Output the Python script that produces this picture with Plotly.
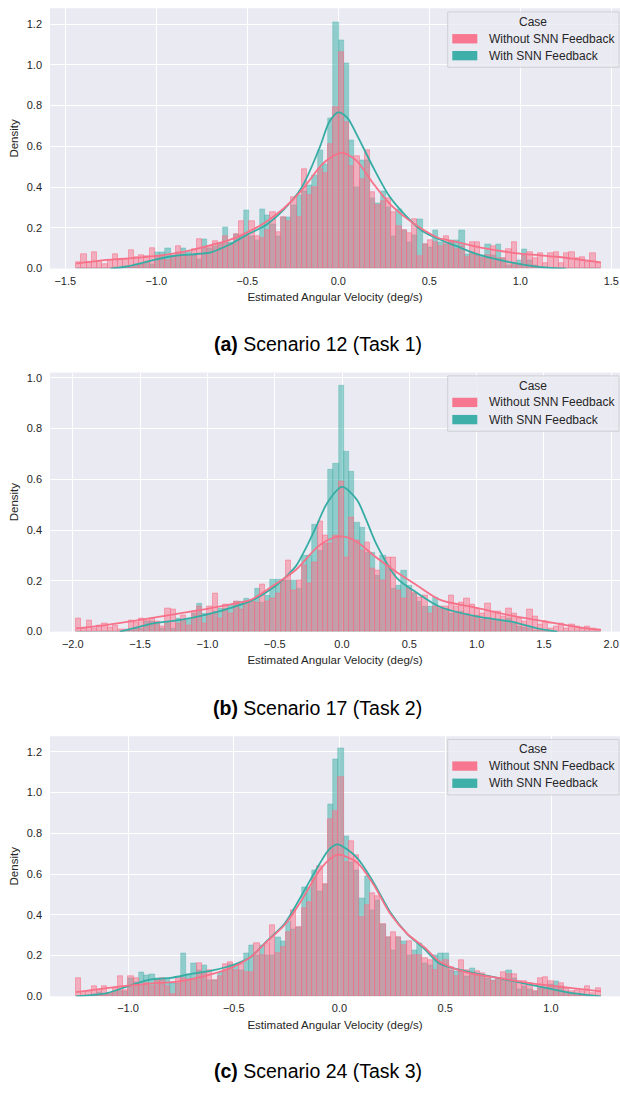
import numpy as np
import plotly.graph_objects as go

# ---------------- DATA ----------------
SERIES_NAMES = ["Without SNN Feedback", "With SNN Feedback"]
CAPTION_LETTERS = ["(a)", "(b)", "(c)"]
CAPTION_TEXTS = ["Scenario 12 (Task 1)", "Scenario 17 (Task 2)", "Scenario 24 (Task 3)"]
X_TITLE = "Estimated Angular Velocity (deg/s)"
Y_TITLE = "Density"
LEGEND_TITLE = "Case"

# histogram bin ranges (100 bins each)
BINS_A = (-1.440, 1.443, 100)
BINS_B = (-1.976, 1.924, 100)
BINS_C = (-1.246, 1.236, 100)

X_TICKS_A = [-1.5, -1.0, -0.5, 0.0, 0.5, 1.0, 1.5]
X_TICKS_B = [-2.0, -1.5, -1.0, -0.5, 0.0, 0.5, 1.0, 1.5, 2.0]
X_TICKS_C = [-1.0, -0.5, 0.0, 0.5, 1.0]
Y_TICKS_A = [0.0, 0.2, 0.4, 0.6, 0.8, 1.0, 1.2]
Y_TICKS_B = [0.0, 0.2, 0.4, 0.6, 0.8, 1.0]
Y_TICKS_C = [0.0, 0.2, 0.4, 0.6, 0.8, 1.0, 1.2]

A_WITHOUT = [0.03, 0.07, 0.03, 0.08, 0.035, 0.02, 0.04, 0.07, 0.045, 0.045,
             0.09, 0.055, 0.065, 0.06, 0.10, 0.06, 0.055, 0.04, 0.06, 0.11,
             0.07, 0.06, 0.095, 0.145, 0.10, 0.11, 0.135, 0.12, 0.16, 0.12,
             0.17, 0.23, 0.16, 0.23, 0.16, 0.15, 0.19, 0.275, 0.18, 0.25,
             0.23, 0.35, 0.25, 0.49, 0.36, 0.40, 0.49, 0.47, 0.61, 0.79,
             1.06, 0.72, 0.50, 0.55, 0.44, 0.58, 0.375, 0.31, 0.33, 0.345,
             0.275, 0.21, 0.19, 0.175, 0.24, 0.06, 0.12, 0.14, 0.13, 0.11,
             0.16, 0.13, 0.094, 0.11, 0.057, 0.127, 0.127, 0.05, 0.065, 0.11,
             0.05, 0.05, 0.093, 0.127, 0.016, 0.065, 0.08, 0.05, 0.073, 0.024,
             0.073, 0.08, 0.024, 0.073, 0.08, 0.05, 0.057, 0.033, 0.073, 0.024]
A_WITH = [0, 0, 0, 0, 0, 0, 0, 0.005, 0.0, 0.01,
          0.005, 0.015, 0.02, 0.03, 0.02, 0.08, 0.08, 0.10, 0.06, 0.08,
          0.10, 0.08, 0.065, 0.045, 0.145, 0.10, 0.11, 0.125, 0.205, 0.13,
          0.17, 0.16, 0.285, 0.16, 0.14, 0.29, 0.26, 0.22, 0.16, 0.25,
          0.25, 0.31, 0.36, 0.38, 0.41, 0.46, 0.58, 0.51, 0.74, 1.21,
          1.12, 1.01, 0.63, 0.40, 0.53, 0.53, 0.345, 0.32, 0.38, 0.30,
          0.16, 0.29, 0.19, 0.13, 0.165, 0.24, 0.12, 0.107, 0.19, 0.13,
          0.12, 0.14, 0.14, 0.19, 0.07, 0.08, 0.065, 0.065, 0.117, 0.065,
          0.117, 0.052, 0.016, 0.024, 0.04, 0.093, 0.04, 0.016, 0.008, 0.004,
          0, 0, 0, 0, 0, 0, 0, 0, 0, 0]

B_WITHOUT = [0.05, 0.01, 0.045, 0.01, 0.025, 0.03, 0.015, 0.025, 0.007, 0.007,
             0.045, 0.035, 0.05, 0.045, 0.05, 0.04, 0.02, 0.09, 0.085, 0.03,
             0.065, 0.025, 0.08, 0.10, 0.03, 0.10, 0.15, 0.05, 0.105, 0.07,
             0.117, 0.085, 0.117, 0.117, 0.115, 0.185, 0.12, 0.13, 0.15, 0.20,
             0.28, 0.16, 0.20, 0.26, 0.19, 0.27, 0.435, 0.38, 0.345, 0.38,
             0.59, 0.29, 0.45, 0.36, 0.32, 0.35, 0.25, 0.24, 0.20, 0.29,
             0.29, 0.16, 0.13, 0.17, 0.155, 0.135, 0.14, 0.07, 0.10, 0.10,
             0.10, 0.14, 0.10, 0.115, 0.13, 0.107, 0.09, 0.072, 0.11, 0.078,
             0.078, 0.059, 0.09, 0.072, 0.052, 0.039, 0.085, 0.059, 0.026, 0.039,
             0.013, 0.02, 0.033, 0.013, 0.026, 0.02, 0.013, 0.02, 0.01, 0.007]
B_WITH = [0, 0, 0, 0, 0, 0, 0, 0, 0, 0.003,
          0.005, 0.01, 0.013, 0.04, 0.04, 0.033, 0.013, 0.04, 0.013, 0.052,
          0.045, 0.052, 0.072, 0.11, 0.072, 0.072, 0.078, 0.091, 0.091, 0.104,
          0.117, 0.12, 0.13, 0.12, 0.17, 0.115, 0.14, 0.205, 0.205, 0.20,
          0.20, 0.20, 0.17, 0.30, 0.30, 0.42, 0.32, 0.345, 0.64, 0.66,
          0.97, 0.71, 0.63, 0.43, 0.41, 0.31, 0.31, 0.22, 0.30, 0.26,
          0.17, 0.18, 0.24, 0.18, 0.15, 0.12, 0.10, 0.10, 0.135, 0.09,
          0.09, 0.07, 0.08, 0.08, 0.07, 0.06, 0.065, 0.046, 0.05, 0.046,
          0.048, 0.04, 0.052, 0.033, 0.02, 0.015, 0.013, 0.005, 0.003, 0,
          0, 0, 0, 0, 0, 0, 0, 0, 0, 0]

C_WITHOUT = [0.09, 0.015, 0.025, 0.05, 0.03, 0.05, 0.015, 0.04, 0.10, 0.03,
             0.10, 0.09, 0.05, 0.065, 0.05, 0.08, 0.09, 0.05, 0.01, 0.09,
             0.09, 0.08, 0.08, 0.16, 0.115, 0.13, 0.08, 0.10, 0.155, 0.165,
             0.13, 0.155, 0.12, 0.12, 0.26, 0.20, 0.26, 0.35, 0.21, 0.24,
             0.315, 0.42, 0.34, 0.43, 0.46, 0.58, 0.64, 0.55, 0.87, 0.91,
             1.075, 0.657, 0.76, 0.69, 0.39, 0.445, 0.505, 0.49, 0.356, 0.29,
             0.315, 0.29, 0.25, 0.27, 0.20, 0.20, 0.185, 0.175, 0.128, 0.16,
             0.175, 0.143, 0.10, 0.176, 0.13, 0.114, 0.122, 0.114, 0.097, 0.073,
             0.089, 0.117, 0.106, 0.106, 0.073, 0.073, 0.065, 0.024, 0.089, 0.093,
             0.073, 0.04, 0.065, 0.04, 0.024, 0.032, 0.024, 0.049, 0.016, 0.04]
C_WITH = [0.0, 0.0, 0.005, 0.01, 0.02, 0.01, 0.015, 0.025, 0.03, 0.025,
          0.09, 0.07, 0.12, 0.105, 0.11, 0.09, 0.09, 0.09, 0.065, 0.065,
          0.21, 0.11, 0.16, 0.13, 0.15, 0.08, 0.08, 0.12, 0.13, 0.155,
          0.155, 0.13, 0.21, 0.25, 0.20, 0.25, 0.20, 0.20, 0.29, 0.27,
          0.37, 0.33, 0.34, 0.535, 0.535, 0.62, 0.515, 0.55, 0.945, 1.164,
          1.218, 0.787, 0.66, 0.62, 0.48, 0.59, 0.42, 0.47, 0.356, 0.29,
          0.226, 0.29, 0.27, 0.20, 0.226, 0.26, 0.16, 0.15, 0.20, 0.21,
          0.21, 0.13, 0.122, 0.122, 0.097, 0.138, 0.105, 0.097, 0.089, 0.078,
          0.089, 0.081, 0.13, 0.089, 0.033, 0.049, 0.033, 0.024, 0.04, 0.04,
          0.057, 0.073, 0.049, 0.024, 0.013, 0.005, 0.003, 0.0, 0.0, 0.0]

# KDE curves
KDE_A_WITHOUT_X = [-1.44, -1.3, -1.2, -1.1, -1.0, -0.9, -0.8, -0.7, -0.6, -0.5, -0.4, -0.3, -0.2, -0.1,
                   -0.05, 0.02, 0.1, 0.19, 0.28, 0.37, 0.46, 0.55, 0.6, 0.7, 0.8, 0.9, 1.0, 1.1, 1.2, 1.3, 1.443]
KDE_A_WITHOUT_Y = [0.024, 0.04, 0.047, 0.054, 0.062, 0.075, 0.092, 0.115, 0.14, 0.178, 0.228, 0.295, 0.385, 0.50,
                   0.54, 0.569, 0.53, 0.42, 0.32, 0.25, 0.194, 0.15, 0.14, 0.12, 0.10, 0.085, 0.073, 0.066, 0.058, 0.047, 0.03]
KDE_A_WITH_X = [-1.25, -1.15, -1.0, -0.9, -0.8, -0.7, -0.6, -0.5, -0.4, -0.3, -0.2, -0.1, -0.05, 0.0,
                0.05, 0.1, 0.19, 0.28, 0.37, 0.46, 0.55, 0.65, 0.75, 0.85, 0.95, 1.05, 1.15, 1.25]
KDE_A_WITH_Y = [0.0, 0.012, 0.045, 0.063, 0.07, 0.08, 0.117, 0.167, 0.213, 0.29, 0.40, 0.60, 0.72, 0.767,
                0.74, 0.66, 0.50, 0.356, 0.26, 0.186, 0.145, 0.11, 0.075, 0.05, 0.03, 0.015, 0.005, 0.0]

KDE_B_WITHOUT_X = [-1.976, -1.75, -1.5, -1.25, -1.0, -0.8, -0.68, -0.5, -0.34, -0.19, -0.1, 0.0, 0.1,
                   0.26, 0.41, 0.55, 0.73, 1.0, 1.25, 1.5, 1.75, 1.924]
KDE_B_WITHOUT_Y = [0.013, 0.026, 0.046, 0.068, 0.09, 0.11, 0.125, 0.185, 0.245, 0.33, 0.362, 0.375, 0.357,
                   0.29, 0.233, 0.185, 0.125, 0.094, 0.064, 0.041, 0.018, 0.007]
KDE_B_WITH_X = [-1.65, -1.5, -1.4, -1.2, -1.0, -0.8, -0.68, -0.5, -0.4, -0.34, -0.26, -0.19, -0.11, 0.0,
                0.11, 0.18, 0.26, 0.41, 0.55, 0.73, 1.0, 1.25, 1.45, 1.6]
KDE_B_WITH_Y = [0.0, 0.02, 0.033, 0.046, 0.068, 0.098, 0.12, 0.178, 0.225, 0.26, 0.338, 0.416, 0.507, 0.57,
                0.52, 0.44, 0.34, 0.21, 0.155, 0.097, 0.06, 0.04, 0.013, 0.0]

KDE_C_WITHOUT_X = [-1.246, -1.1, -1.0, -0.9, -0.75, -0.6, -0.5, -0.42, -0.345, -0.26, -0.18, -0.1, -0.05,
                   -0.01, 0.083, 0.16, 0.24, 0.32, 0.40, 0.475, 0.6, 0.75, 0.9, 1.0, 1.1, 1.236]
KDE_C_WITHOUT_Y = [0.02, 0.04, 0.052, 0.062, 0.075, 0.11, 0.145, 0.193, 0.267, 0.35, 0.47, 0.61, 0.67,
                   0.696, 0.657, 0.55, 0.405, 0.307, 0.242, 0.17, 0.117, 0.09, 0.065, 0.052, 0.04, 0.024]
KDE_C_WITH_X = [-1.246, -1.1, -1.0, -0.9, -0.8, -0.7, -0.6, -0.5, -0.42, -0.345, -0.26, -0.18, -0.1, -0.05,
                -0.01, 0.083, 0.16, 0.24, 0.32, 0.40, 0.475, 0.6, 0.75, 0.9, 1.0, 1.1, 1.236]
KDE_C_WITH_Y = [0.0, 0.016, 0.05, 0.081, 0.09, 0.11, 0.127, 0.155, 0.193, 0.27, 0.356, 0.494, 0.64, 0.72,
                0.746, 0.68, 0.56, 0.413, 0.307, 0.234, 0.16, 0.122, 0.09, 0.057, 0.036, 0.016, 0.0]

# ---------------- STYLE / LAYOUT ----------------
W, H = 620, 1095
FONT = "Liberation Sans, Arial, Helvetica, sans-serif"
PINK = "#f77189"
TEAL = "#36ada4"
TEXT = "#262626"
BG = "#EAEAF2"


def rgba(hexc, a):
    h = hexc.lstrip("#")
    return "rgba(%d,%d,%d,%.3f)" % (int(h[0:2], 16), int(h[2:4], 16), int(h[4:6], 16), a)


def px_y(py):
    return 1 - py / H


panels = [
    dict(bins=BINS_A, without=A_WITHOUT, with_=A_WITH,
         kwo=(KDE_A_WITHOUT_X, KDE_A_WITHOUT_Y), kw=(KDE_A_WITH_X, KDE_A_WITH_Y),
         xr=[-1.5841, 1.5478], yr=[0, 1.278], xt=X_TICKS_A, yt=Y_TICKS_A,
         top=7.3, bottom=269.3, cap_y=345, leg=(11, 66.7, 20.7, 38, 55)),
    dict(bins=BINS_B, without=B_WITHOUT, with_=B_WITH,
         kwo=(KDE_B_WITHOUT_X, KDE_B_WITHOUT_Y), kw=(KDE_B_WITH_X, KDE_B_WITH_Y),
         xr=[-2.1694, 2.0654], yr=[0, 1.0204], xt=X_TICKS_B, yt=Y_TICKS_B,
         top=374, bottom=634.7, cap_y=712, leg=(377.3, 433, 387, 404, 421.3)),
    dict(bins=BINS_C, without=C_WITHOUT, with_=C_WITH,
         kwo=(KDE_C_WITHOUT_X, KDE_C_WITHOUT_Y), kw=(KDE_C_WITH_X, KDE_C_WITH_Y),
         xr=[-1.3688, 1.3262], yr=[0, 1.2766], xt=X_TICKS_C, yt=Y_TICKS_C,
         top=740, bottom=1001.7, cap_y=1077, leg=(743.3, 799, 753.3, 770, 787.3)),
]

fig = go.Figure()
layout = dict(
    width=W, height=H, margin=dict(l=0, r=0, t=0, b=0),
    paper_bgcolor="white", plot_bgcolor=BG, showlegend=False,
    barmode="overlay", bargap=0, font=dict(family=FONT, color=TEXT),
)
shapes = []
annotations = []

for i, p in enumerate(panels):
    k = "" if i == 0 else str(i + 1)
    xa, ya = "x" + k, "y" + k
    lo, hi, n = p["bins"]
    edges = np.linspace(lo, hi, n + 1)
    centers = (edges[:-1] + edges[1:]) / 2
    bw = (hi - lo) / n

    for vals, col, lw in [(p["with_"], TEAL, 0.6), (p["without"], PINK, 1.0)]:
        fig.add_trace(go.Bar(
            x=centers, y=vals, width=bw, xaxis=xa, yaxis=ya,
            marker=dict(color=rgba(col, 0.5), line=dict(color=rgba(col, 0.55), width=lw)),
            hoverinfo="skip"))
    for (kx, ky), col in [(p["kw"], TEAL), (p["kwo"], PINK)]:
        fig.add_trace(go.Scatter(
            x=kx, y=ky, mode="lines", xaxis=xa, yaxis=ya,
            line=dict(color=col, width=1.8, shape="spline", smoothing=0.8),
            hoverinfo="skip"))

    layout["xaxis" + k] = dict(
        domain=[50 / W, 1.0], range=p["xr"], anchor=ya,
        tickvals=p["xt"], tickformat=".1f", showgrid=True, gridcolor="white", gridwidth=1.3,
        zeroline=False, showline=False, ticks="", ticklabelstandoff=4,
        tickfont=dict(size=11, color=TEXT, family=FONT),
        title=dict(text=X_TITLE, font=dict(size=11.5, color=TEXT, family=FONT), standoff=7),
    )
    layout["yaxis" + k] = dict(
        domain=[px_y(p["bottom"]), px_y(p["top"])], range=p["yr"], anchor=xa,
        tickvals=p["yt"], tickformat=".1f", showgrid=True, gridcolor="white", gridwidth=1.3,
        zeroline=False, showline=False, ticks="", ticklabelstandoff=7,
        tickfont=dict(size=11, color=TEXT, family=FONT),
        title=dict(text=Y_TITLE, font=dict(size=11.5, color=TEXT, family=FONT), standoff=5),
    )

    # caption
    annotations.append(dict(
        xref="paper", yref="paper", x=317.5 / W, y=px_y(p["cap_y"]),
        xanchor="center", yanchor="middle", showarrow=False,
        text="<b>%s</b> %s" % (CAPTION_LETTERS[i], CAPTION_TEXTS[i]),
        font=dict(size=19.5, color="black", family=FONT)))

    # legend box
    b_top, b_bot, t_y, e1, e2 = p["leg"]
    shapes.append(dict(type="rect", xref="paper", yref="paper",
                       x0=447.7 / W, x1=619 / W, y0=px_y(b_bot), y1=px_y(b_top),
                       fillcolor="rgba(234,234,242,0.8)", line=dict(color="#cfcfd4", width=1)))
    annotations.append(dict(
        xref="paper", yref="paper", x=533.3 / W, y=px_y(t_y), xanchor="center", yanchor="middle",
        showarrow=False, text=LEGEND_TITLE, font=dict(size=12, color=TEXT, family=FONT)))
    for name, col, ey in [(SERIES_NAMES[0], PINK, e1), (SERIES_NAMES[1], TEAL, e2)]:
        shapes.append(dict(type="rect", xref="paper", yref="paper",
                           x0=452.3 / W, x1=477.3 / W, y0=px_y(ey + 4.7), y1=px_y(ey - 4.7),
                           fillcolor=col, line=dict(width=0), opacity=0.95))
        annotations.append(dict(
            xref="paper", yref="paper", x=486.7 / W, y=px_y(ey), xanchor="left", yanchor="middle",
            showarrow=False, text=name, font=dict(size=12, color=TEXT, family=FONT)))

layout["shapes"] = shapes
layout["annotations"] = annotations
fig.update_layout(**layout)
fig.write_html("out.html", config={"displayModeBar": False},
               post_script="document.body.style.margin='0';document.body.style.padding='0';")
